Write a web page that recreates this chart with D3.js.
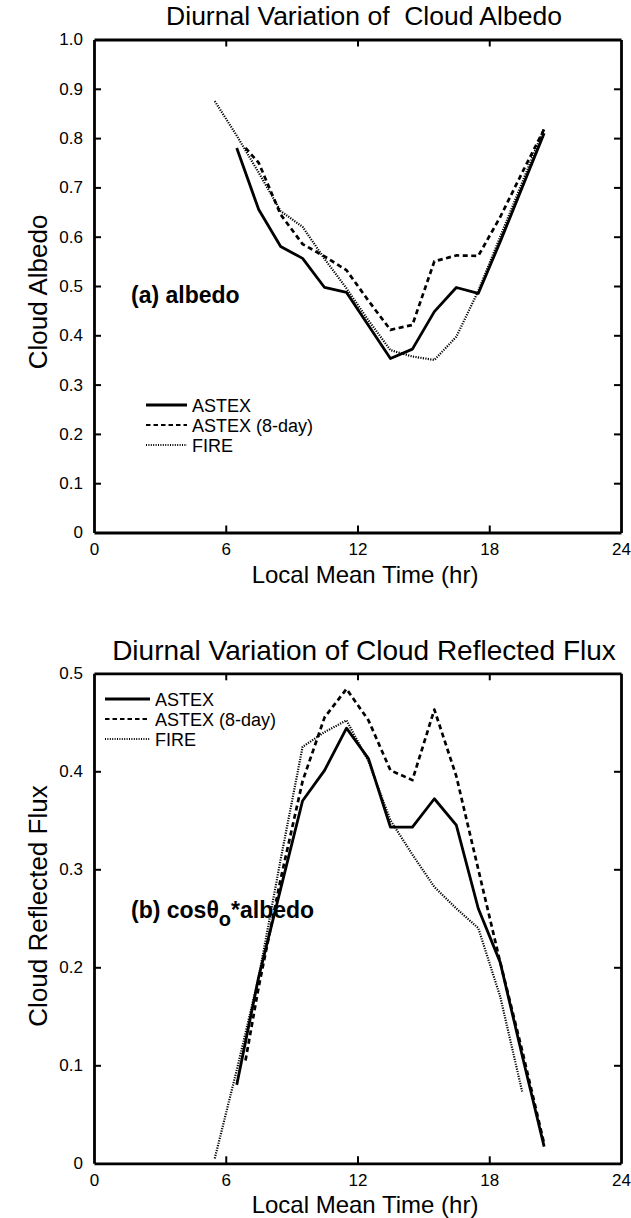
<!DOCTYPE html>
<html>
<head>
<meta charset="utf-8">
<script src="https://cdn.jsdelivr.net/npm/d3@7"></script>
<style>
  body { margin: 0; background: #fff; }
  svg { font-family: "Liberation Sans", Arial, Helvetica, sans-serif; }
</style>
</head>
<body>
<script>
// series names / styles keys
const seriesNames = ["ASTEX", "ASTEX (8-day)", "FIRE"];

// panel (a): cloud albedo
const astexHours = [6.5, 7.5, 8.5, 9.5, 10.5, 11.5, 12.5, 13.5, 14.5, 15.5, 16.5, 17.5, 18.5, 19.5, 20.5];
const astex8Hours = [6.9, 7.5, 8.5, 9.5, 10.5, 11.5, 12.5, 13.5, 14.5, 15.5, 16.5, 17.5, 18.5, 19.5, 20.5];
const fireHours = [5.5, 6.5, 7.5, 8.5, 9.5, 10.5, 11.5, 12.5, 13.5, 14.5, 15.5, 16.5, 17.5, 18.5, 19.5, 20.5];

const astexAlbedo = [0.78, 0.655, 0.58, 0.556, 0.497, 0.487, 0.42, 0.353, 0.372, 0.448, 0.497, 0.485, 0.59, 0.70, 0.81];
const astex8Albedo = [0.78, 0.75, 0.645, 0.585, 0.56, 0.532, 0.47, 0.411, 0.421, 0.55, 0.562, 0.561, 0.64, 0.73, 0.818];
const fireAlbedo = [0.875, 0.805, 0.73, 0.652, 0.62, 0.555, 0.495, 0.43, 0.37, 0.357, 0.35, 0.397, 0.49, 0.60, 0.71, 0.82];

// panel (b): cloud reflected flux
const fireFluxHours = [5.5, 6.5, 7.5, 8.5, 9.5, 10.5, 11.5, 12.5, 13.5, 14.5, 15.5, 16.5, 17.5, 18.5, 19.5];
const astexFlux = [0.08, 0.19, 0.28, 0.37, 0.401, 0.444, 0.413, 0.343, 0.343, 0.372, 0.345, 0.26, 0.205, 0.11, 0.017];
const astex8Flux = [0.105, 0.18, 0.29, 0.39, 0.455, 0.484, 0.452, 0.401, 0.391, 0.463, 0.395, 0.30, 0.205, 0.115, 0.02];
const fireFlux = [0.005, 0.095, 0.19, 0.31, 0.425, 0.44, 0.452, 0.41, 0.35, 0.315, 0.282, 0.26, 0.24, 0.17, 0.073];

// ticks
const xTicks = [0, 6, 12, 18, 24];
const albedoTicks = [0, 0.1, 0.2, 0.3, 0.4, 0.5, 0.6, 0.7, 0.8, 0.9, 1.0];
const albedoLabels = ["0", "0.1", "0.2", "0.3", "0.4", "0.5", "0.6", "0.7", "0.8", "0.9", "1.0"];
const fluxTicks = [0, 0.1, 0.2, 0.3, 0.4, 0.5];
const fluxLabels = ["0", "0.1", "0.2", "0.3", "0.4", "0.5"];

let width = 631;
let height = 1218;
let marginLeft = 94;
let marginRight = 10;

const styles = {
  "ASTEX": { width: 2.8, dash: null },
  "ASTEX (8-day)": { width: 2.7, dash: "5,3.5" },
  "FIRE": { width: 2.2, dash: "1.2,1.3" }
};

const svg = d3.select("body")
  .append("svg")
  .attr("width", width)
  .attr("height", height)
  .attr("viewBox", [0, 0, width, height]);

const x = d3.scaleLinear()
  .domain([0, 24])
  .range([marginLeft, width - marginRight]);

function zip(hrs, vals) {
  return hrs.map((h, i) => ({ hr: h, v: vals[i] }));
}

function drawPanel(opts) {
  const y = d3.scaleLinear()
    .domain(opts.domain)
    .range([opts.bottom, opts.top]);

  const g = svg.append("g");

  // series
  const line = d3.line()
    .x(d => x(d.hr))
    .y(d => y(d.v));

  opts.series.forEach(s => {
    const st = styles[s.name];
    g.append("path")
      .datum(s.data)
      .attr("fill", "none")
      .attr("stroke", "#000")
      .attr("stroke-width", st.width)
      .attr("stroke-dasharray", st.dash)
      .attr("stroke-linejoin", "round")
      .attr("d", line);
  });

  // axes (inward ticks on all four sides)
  const tickLen = 7;
  const axStyle = a => a
    .call(g => g.select(".domain").attr("stroke-width", 2.8))
    .call(g => g.selectAll(".tick line").attr("stroke-width", 2))
    .call(g => g.selectAll("text").attr("font-size", 17).attr("fill", "#000"));

  g.append("g")
    .attr("transform", `translate(0,${opts.bottom})`)
    .call(d3.axisBottom(x).tickValues(xTicks).tickFormat(d3.format("d"))
      .tickSizeInner(-tickLen).tickSizeOuter(0).tickPadding(10.5))
    .call(axStyle)
    .call(g => g.selectAll(".tick line").filter(d => d === 0 || d === 24).remove());

  g.append("g")
    .attr("transform", `translate(0,${opts.top})`)
    .call(d3.axisTop(x).tickValues(xTicks).tickFormat("")
      .tickSizeInner(-tickLen).tickSizeOuter(0))
    .call(axStyle)
    .call(g => g.selectAll(".tick line").filter(d => d === 0 || d === 24).remove());

  g.append("g")
    .attr("transform", `translate(${marginLeft},0)`)
    .call(d3.axisLeft(y).tickValues(opts.ticks).tickFormat((d, i) => opts.labels[i])
      .tickSizeInner(-tickLen).tickSizeOuter(0).tickPadding(11))
    .call(axStyle)
    .call(g => g.selectAll(".tick line").filter((d, i) => i === 0 || i === opts.ticks.length - 1).remove());

  g.append("g")
    .attr("transform", `translate(${width - marginRight},0)`)
    .call(d3.axisRight(y).tickValues(opts.ticks).tickFormat("")
      .tickSizeInner(-tickLen).tickSizeOuter(0))
    .call(axStyle)
    .call(g => g.selectAll(".tick line").filter((d, i) => i === 0 || i === opts.ticks.length - 1).remove());

  // titles
  g.append("text")
    .attr("x", opts.titleX)
    .attr("y", opts.titleY)
    .attr("text-anchor", "middle")
    .attr("font-size", opts.titleSize)
    .style("white-space", "pre")
    .text(opts.title);

  g.append("text")
    .attr("x", 365)
    .attr("y", opts.bottom + 50)
    .attr("text-anchor", "middle")
    .attr("font-size", 24)
    .text("Local Mean Time (hr)");

  const yMid = opts.yTitleY;
  g.append("text")
    .attr("transform", `translate(47,${yMid}) rotate(-90)`)
    .attr("text-anchor", "middle")
    .attr("font-size", 26)
    .text(opts.yTitle);

  // legend
  opts.series.forEach((s, i) => {
    const ly = opts.legendY[i];
    g.append("line")
      .attr("x1", opts.legendX)
      .attr("x2", opts.legendX + opts.legendLen)
      .attr("y1", ly)
      .attr("y2", ly)
      .attr("stroke", "#000")
      .attr("stroke-width", s.name === "ASTEX" ? 3 : 2.2)
      .attr("stroke-dasharray", s.name === "ASTEX (8-day)" ? "4.5,3" : (s.name === "FIRE" ? "1,1.4" : null));
    g.append("text")
      .attr("x", opts.legendX + opts.legendLen + 5)
      .attr("y", ly + 6.5)
      .attr("font-size", 18)
      .text(s.name);
  });

  return g;
}

// panel (a)
const ga = drawPanel({
  domain: [0, 1],
  top: 39.5,
  bottom: 532.5,
  ticks: albedoTicks,
  labels: albedoLabels,
  title: "Diurnal Variation of  Cloud Albedo",
  titleX: 364,
  titleY: 25,
  titleSize: 26.5,
  yTitle: "Cloud Albedo",
  yTitleY: 292,
  legendX: 146,
  legendLen: 41,
  legendY: [405, 425, 445],
  series: [
    { name: seriesNames[0], data: zip(astexHours, astexAlbedo) },
    { name: seriesNames[1], data: zip(astex8Hours, astex8Albedo) },
    { name: seriesNames[2], data: zip(fireHours, fireAlbedo) }
  ]
});

ga.append("text")
  .attr("x", 131)
  .attr("y", 303)
  .attr("font-size", 23)
  .attr("font-weight", "bold")
  .text("(a) albedo");

// panel (b)
const gb = drawPanel({
  domain: [0, 0.5],
  top: 673.3,
  bottom: 1163.3,
  ticks: fluxTicks,
  labels: fluxLabels,
  title: "Diurnal Variation of Cloud Reflected Flux",
  titleX: 364,
  titleY: 660,
  titleSize: 28,
  yTitle: "Cloud Reflected Flux",
  yTitleY: 906,
  legendX: 105,
  legendLen: 45,
  legendY: [699, 719, 739],
  series: [
    { name: seriesNames[0], data: zip(astexHours, astexFlux) },
    { name: seriesNames[1], data: zip(astex8Hours, astex8Flux) },
    { name: seriesNames[2], data: zip(fireFluxHours, fireFlux) }
  ]
});

const lab = gb.append("text")
  .attr("x", 131)
  .attr("y", 918)
  .attr("font-size", 23)
  .attr("font-weight", "bold");
lab.append("tspan").text("(b) cos\u03B8");
lab.append("tspan").attr("dy", 8).attr("font-size", 20).text("o");
lab.append("tspan").attr("dy", -8).text("*albedo");
</script>
</body>
</html>
